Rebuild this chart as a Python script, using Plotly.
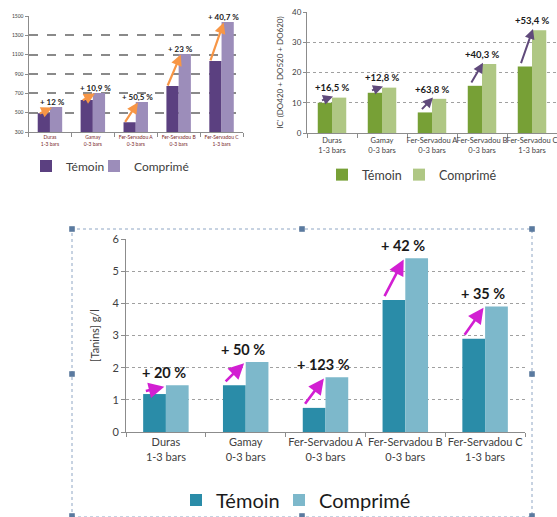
import plotly.graph_objects as go

W, H = 557, 517

# ---------------- data ----------------
categories = ["Duras<br>1-3 bars", "Gamay<br>0-3 bars", "Fer-Servadou A<br>0-3 bars",
              "Fer-Servadou B<br>0-3 bars", "Fer-Servadou C<br>1-3 bars"]
series_names = ["Témoin", "Comprimé"]

# chart 1 (top-left)
c1_temoin = [495, 630, 400, 775, 1035]
c1_comprime = [558, 703, 610, 1107, 1438]
c1_labels = ["+ 12 %", "+ 10,9 %", "+ 50,5 %", "+ 23 %", "+ 40,7 %"]
c1_yticks = [300, 500, 700, 900, 1100, 1300, 1500]

# chart 2 (top-right)
c2_temoin = [10, 13.3, 6.8, 15.6, 22]
c2_comprime = [11.7, 15, 11.3, 22.8, 34]
c2_labels = ["+16,5 %", "+12,8 %", "+63,8 %", "+40,3 %", "+53,4 %"]
c2_yticks = [0, 10, 20, 30, 40]

# chart 3 (bottom)
c3_temoin = [1.18, 1.45, 0.75, 4.1, 2.9]
c3_comprime = [1.45, 2.18, 1.7, 5.4, 3.9]
c3_labels = ["+ 20 %", "+ 50 %", "+ 123 %", "+ 42 %", "+ 35 %"]
c3_yticks = [0, 1, 2, 3, 4, 5, 6]

FONT = "Lato, 'Open Sans', sans-serif"


def px_x(x):
    return x / W


def px_y(y):
    return 1 - y / H


fig = go.Figure()

charts = [
    dict(xa="x", ya="y", legs=("legend7", "legend2"), t=c1_temoin, c=c1_comprime, lab=c1_labels,
         ct="#5B4080", cc="#9C8DBA", arrow="#F79646", aw=2.2, asz=1.0, lfs=8,
         sx=-0.27, ex=0.05, sdy=-10, edy=-5, lx=0.05, ldy=55),
    dict(xa="x2", ya="y2", legs=("legend3", "legend4"), t=c2_temoin, c=c2_comprime,
         lab=c2_labels,
         ct="#77A036", cc="#AFC784", arrow="#604A7B", aw=2.0, asz=1.0, lfs=9.5,
         sx=-0.23, ex=0.02, sdy=0.6, edy=0.4, lx=0.0, ldy=3.2),
    dict(xa="x3", ya="y3", legs=("legend5", "legend6"), t=c3_temoin, c=c3_comprime,
         lab=c3_labels,
         ct="#2A8CA8", cc="#7DB8CB", arrow="#D21FD2", aw=2.6, asz=1.2, lfs=14.5,
         sx=-0.27, ex=-0.02, sdy=0.08, edy=-0.04, lx=-0.03, ldy=0.4),
]

for ch in charts:
    for name, vals, col, leg in [(series_names[0], ch["t"], ch["ct"], ch["legs"][0]),
                                 (series_names[1], ch["c"], ch["cc"], ch["legs"][1])]:
        fig.add_trace(go.Bar(x=categories, y=vals, name=name, xaxis=ch["xa"], yaxis=ch["ya"],
                             marker=dict(color=col, line=dict(width=0)), legend=leg,
                             showlegend=True, hoverinfo="skip"))
    for i, (tv, cv, lab) in enumerate(zip(ch["t"], ch["c"], ch["lab"])):
        fig.add_annotation(x=i + ch["ex"], y=cv + ch["edy"], ax=i + ch["sx"], ay=tv + ch["sdy"],
                           xref=ch["xa"], yref=ch["ya"], axref=ch["xa"], ayref=ch["ya"],
                           showarrow=True, arrowhead=2, arrowsize=ch["asz"],
                           arrowwidth=ch["aw"], arrowcolor=ch["arrow"], text="")
        fig.add_annotation(x=i + ch["lx"], y=cv + ch["ldy"], xref=ch["xa"], yref=ch["ya"],
                           text="<b>%s</b>" % lab, showarrow=False, yanchor="middle",
                           font=dict(family=FONT, size=ch["lfs"], color="#1a1a1a"))

axis_common = dict(showline=True, linecolor="#8c8c8c", linewidth=1, type="category",
                   ticks="outside", tickson="boundaries", ticklen=4, tickcolor="#8c8c8c",
                   showgrid=False, zeroline=False, fixedrange=True, tickangle=0,
                   automargin=False)
yaxis_common = dict(showline=True, linecolor="#8c8c8c", ticks="outside", tickcolor="#8c8c8c",
                    zeroline=False, automargin=False, showgrid=True)


def leg(xtext, ycen, size, color):
    return dict(orientation="h", x=px_x(xtext - 41), y=px_y(ycen), xanchor="left",
                yanchor="middle", font=dict(size=size, color=color), visible=True,
                bgcolor="rgba(0,0,0,0)", itemwidth=30)


fig.update_layout(
    width=W, height=H, margin=dict(l=0, r=0, t=0, b=0, autoexpand=False),
    paper_bgcolor="white", plot_bgcolor="white", showlegend=True,
    barmode="group", bargap=0.43, bargroupgap=0.0,
    font=dict(family=FONT, color="#404040"),
    xaxis=dict(axis_common, domain=[px_x(28.5), px_x(243)], anchor="y",
               tickfont=dict(size=5, color="#7a2828")),
    yaxis=dict(yaxis_common, domain=[px_y(132), px_y(16)], range=[300, 1500], anchor="x",
               tickvals=c1_yticks, ticktext=[str(v) for v in c1_yticks],
               tickfont=dict(size=5, color="#404040"), ticklen=3,
               gridcolor="#8a8a8a", gridwidth=1.6, griddash="dash"),
    xaxis2=dict(axis_common, domain=[px_x(307), 1.0], anchor="y2",
                tickfont=dict(size=7.5, color="#404040")),
    yaxis2=dict(yaxis_common, domain=[px_y(133), px_y(12)], range=[0, 40], anchor="x2",
                tickvals=c2_yticks, tickfont=dict(size=8, color="#404040"), ticklen=3,
                gridcolor="#a0a0a0", gridwidth=1, griddash="dot",
                title=dict(text="IC' (DO420 + DO520 + DO620)",
                           font=dict(size=8, color="#404040"), standoff=7)),
    xaxis3=dict(axis_common, domain=[px_x(126), px_x(525)], anchor="y3",
                tickfont=dict(size=11, color="#404040")),
    yaxis3=dict(yaxis_common, domain=[px_y(432), px_y(239)], range=[0, 6], anchor="x3",
                tickvals=c3_yticks, tickfont=dict(size=11, color="#404040"), ticklen=4,
                gridcolor="#a0a0a0", gridwidth=1, griddash="dot",
                title=dict(text="[Tanins] g/l", font=dict(size=11, color="#404040"),
                           standoff=10)),
    legend7=leg(67, 166, 12, "#404040"),
    legend2=leg(135, 166, 12, "#404040"),
    legend3=leg(363, 175, 12.5, "#404040"),
    legend4=leg(440, 175, 12.5, "#404040"),
    legend5=leg(217, 500, 20, "#1a1a1a"),
    legend6=leg(320, 500, 20, "#1a1a1a"),
)

# selection frame around bottom chart
fig.add_shape(type="rect", xref="paper", yref="paper",
              x0=px_x(72), x1=px_x(532), y0=px_y(517), y1=px_y(229),
              line=dict(color="#8fa6c4", width=1, dash="dot"), fillcolor="rgba(0,0,0,0)")
for hx, hy in [(72, 229), (302, 229), (532, 229), (72, 374), (532, 374),
               (72, 516), (302, 516), (532, 516)]:
    fig.add_shape(type="rect", xref="paper", yref="paper",
                  x0=px_x(hx - 2.5), x1=px_x(hx + 2.5), y0=px_y(hy + 2.5), y1=px_y(hy - 2.5),
                  line=dict(color="#4a6a90", width=0.5), fillcolor="#5a7aa0")

fig.write_html("out.html")
